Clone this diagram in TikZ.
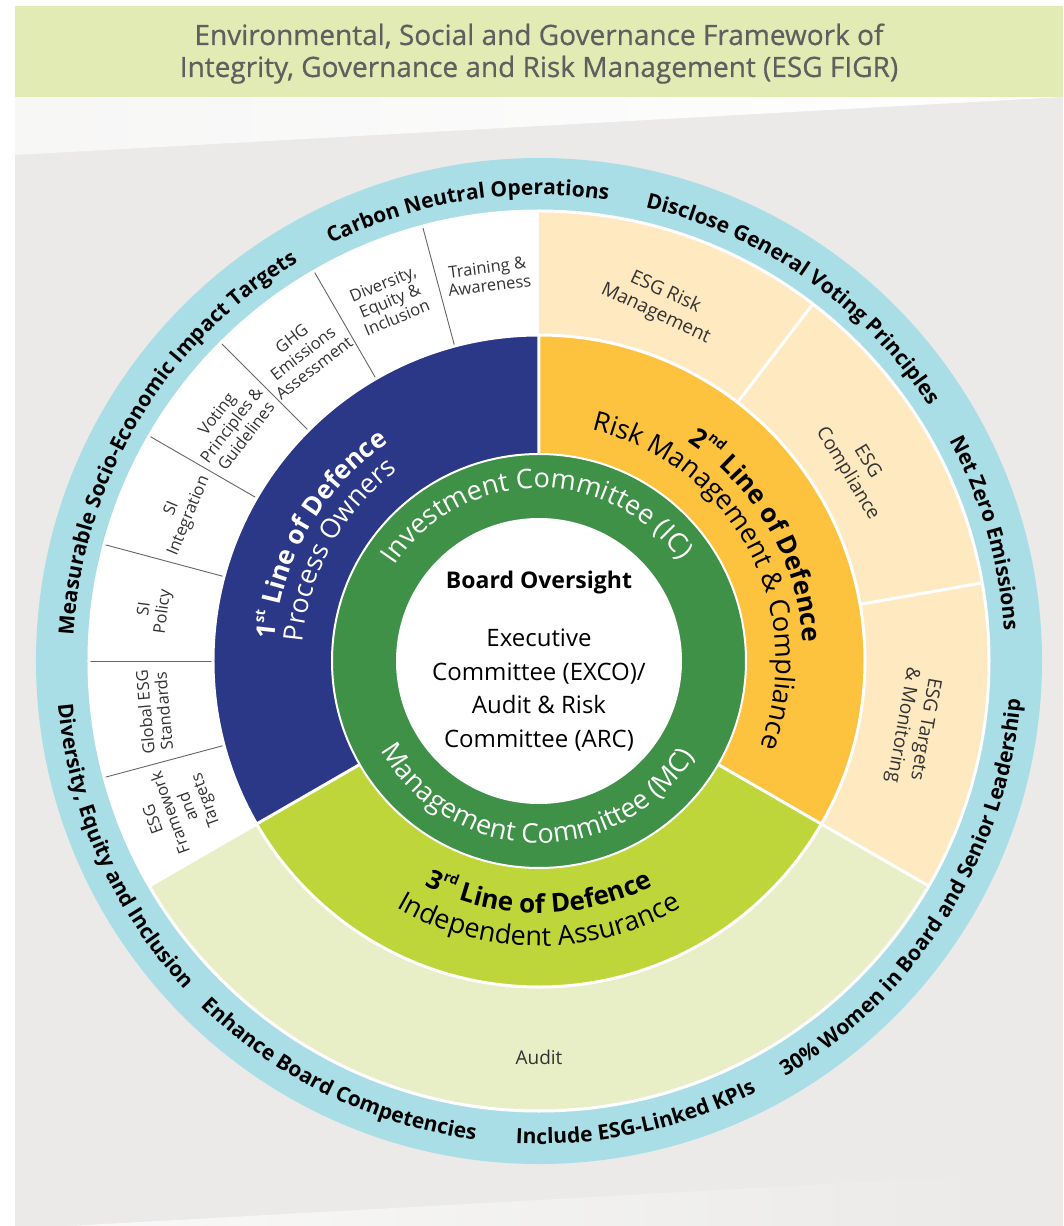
\documentclass[tikz,border=0pt]{standalone}
\usepackage{fontspec}
\setmainfont{Open Sans}
\newfontfamily\headfont[FakeBold=0.6]{Open Sans}
\newfontfamily\ringfont{Open Sans}
\usetikzlibrary{decorations.text}

\definecolor{ringblue}{RGB}{170,222,230}
\definecolor{navy}{RGB}{43,55,135}
\definecolor{amber}{RGB}{253,194,62}
\definecolor{peach}{RGB}{254,233,192}
\definecolor{limegreen}{RGB}{190,214,58}
\definecolor{palegreen}{RGB}{232,239,199}
\definecolor{ringgreen}{RGB}{62,145,70}
\definecolor{headband}{RGB}{226,235,180}
\definecolor{bggray}{RGB}{235,234,232}
\definecolor{headtext}{RGB}{95,95,95}

\newcommand{\fsz}[2]{\fontsize{#1}{#2}\selectfont}
\newcommand{\supr}[1]{\raisebox{0.5em}{\fsz{14}{14}#1}}
% text on an arc: radius, start angle, end angle, format, text
\newcommand{\arctext}[5]{\path[decorate, decoration={text along path, text align=center, text={|#4|#5}}] (#2:#1) arc[start angle=#2, end angle=#3, radius=#1];}

\tikzset{
  headtitle/.style={inner sep=0pt, text=headtext, font=\headfont\fsz{28}{32}},
  segtext/.style={align=center, inner sep=0pt, text=black!80, font=\fsz{16.5}{18.5}},
  peachtext/.style={align=center, inner sep=0pt, text=black!80, font=\fsz{19}{23}},
  divider/.style={white, line width=3pt},
  segline/.style={black!60, line width=0.9pt},
}

\begin{document}
\begin{tikzpicture}[x=1pt, y=1pt]
\useasboundingbox (-539,-565) rectangle (524,661);
\fill[white] (-539,-565) rectangle (524,661);
% background and title band
\fill[bggray] (-524,-565) rectangle (524,564);
\shade[left color=bggray!40!white, right color=white] (-524,564) -- (524,564) -- (-524,506) -- cycle;
\shade[left color=bggray!30!white, right color=bggray] (-471,-565) -- (451,-514) -- (451,-565) -- cycle;
\fill[headband] (-524,564) rectangle (524,655);
\node[headtitle, anchor=base] (titleA) at (0,616) {Environmental, Social and Governance Framework of};
\node[headtitle, anchor=base] (titleB) at (0,584) {Integrity, Governance and Risk Management (ESG FIGR)};

% outer ring
\fill[ringblue] (0,0) circle[radius=503];
% outer segments
\fill[white] (0,0) -- (90:450) arc[start angle=90, end angle=210, radius=450] -- cycle;
\fill[peach] (0,0) -- (-30:450) arc[start angle=-30, end angle=90, radius=450] -- cycle;
\fill[palegreen] (0,0) -- (210:450) arc[start angle=210, end angle=330, radius=450] -- cycle;
\foreach \a in {105,120,...,195}
  \draw[segline] (\a:326) -- (\a:450);
% three lines of defence
\fill[navy] (0,0) -- (90:326) arc[start angle=90, end angle=210, radius=326] -- cycle;
\fill[amber] (0,0) -- (-30:326) arc[start angle=-30, end angle=90, radius=326] -- cycle;
\fill[limegreen] (0,0) -- (210:326) arc[start angle=210, end angle=330, radius=326] -- cycle;
\draw[divider] (0,0) circle[radius=450];
\draw[divider] (0,0) circle[radius=326];
\draw[divider] (90:207) -- (90:326) (210:207) -- (210:450) (330:207) -- (330:450)
  (52.5:326) -- (52.5:450) (10:326) -- (10:450);
% committees and board
\fill[ringgreen] (0,0) circle[radius=207];
\draw[white, line width=2pt] (0,0) circle[radius=207];
\fill[white] (0,0) circle[radius=143];

% centre
\node[font=\bfseries\fsz{23}{23}, inner sep=0pt, anchor=base] (board) at (0,72) {Board Oversight};
\node[font=\fsz{24}{33.5}, align=center, inner sep=0pt] (exco) at (0,-29) {Executive\\Committee (EXCO)/\\Audit \& Risk\\Committee (ARC)};

% green ring
\arctext{173}{181}{1}{\fsz{27}{27}\color{white}}{Investment Committee (IC)}
\arctext{182}{179}{359}{\fsz{27}{27}\color{white}}{Management Committee (MC)}

% 1st line
\arctext{265}{210}{90}{\bfseries\fsz{26}{26}\color{white}}{1{\supr{st}} Line of Defence}
\arctext{237}{211}{91}{\fsz{27}{27}\color{white}}{Process Owners}
% 2nd line
\arctext{265}{90}{-30}{\bfseries\fsz{26}{26}}{2{\supr{nd}} Line of Defence}
\arctext{237}{88}{-32}{\fsz{27}{27}}{Risk Management {\&} Compliance}
% 3rd line
\arctext{252}{210}{330}{\bfseries\fsz{26}{26}}{3{\supr{rd}} Line of Defence}
\arctext{285}{210}{330}{\fsz{27}{27}}{Independent Assurance}

% first line owners
\node[segtext, rotate=7.5] (training) at (97.5:388) {Training \&\\Awareness};
\node[segtext, rotate=22.5] (diversity) at (112.5:390) {Diversity,\\Equity \&\\Inclusion};
\node[segtext, rotate=37.5] (ghg) at (127.5:388) {GHG\\Emissions\\Assessment};
\node[segtext, rotate=52.5] (voting) at (142.5:388) {Voting\\Principles \&\\Guidelines};
\node[segtext, rotate=67.5] (siint) at (157.5:388) {SI\\Integration};
\node[segtext, rotate=82.5] (sipol) at (172.5:388) {SI\\Policy};
\node[segtext, rotate=95] (globalstd) at (187.5:388) {Global ESG\\Standards};
\node[segtext, rotate=110] (framework) at (202.5:388) {ESG\\Framework\\and\\Targets};
% second line functions
\node[peachtext, rotate=-25] (riskmgmt) at (71.25:378) {ESG Risk\\Management};
\node[peachtext, rotate=-58.75] (compliance) at (31.25:372) {ESG\\Compliance};
\node[peachtext, rotate=-100] (targets) at (-10:380) {ESG Targets\\\& Monitoring};
% third line
\node[font=\fsz{19}{19}, text=black!80, inner sep=0pt, anchor=base] (audit) at (0,-403) {Audit};

% outer ring goals
\arctext{466}{139}{59}{\ringfont\bfseries\fsz{21}{21}}{Carbon Neutral Operations}
\arctext{466}{95}{15}{\ringfont\bfseries\fsz{21}{21}}{Disclose General Voting Principles}
\arctext{466}{46}{-14}{\ringfont\bfseries\fsz{21}{21}}{Net Zero Emissions}
\arctext{466}{194}{104}{\ringfont\bfseries\fsz{21}{21}}{Measurable Socio-Economic Impact Targets}
\arctext{483}{164}{244}{\ringfont\bfseries\fsz{21}{21}}{Diversity, Equity and Inclusion}
\arctext{483}{204}{284}{\ringfont\bfseries\fsz{21}{21}}{Enhance Board Competencies}
\arctext{483}{242}{322}{\ringfont\bfseries\fsz{21}{21}}{Include ESG-Linked KPIs}
\arctext{483}{283}{373}{\ringfont\bfseries\fsz{21}{21}}{30{\%} Women in Board and Senior Leadership}
\end{tikzpicture}
\end{document}
